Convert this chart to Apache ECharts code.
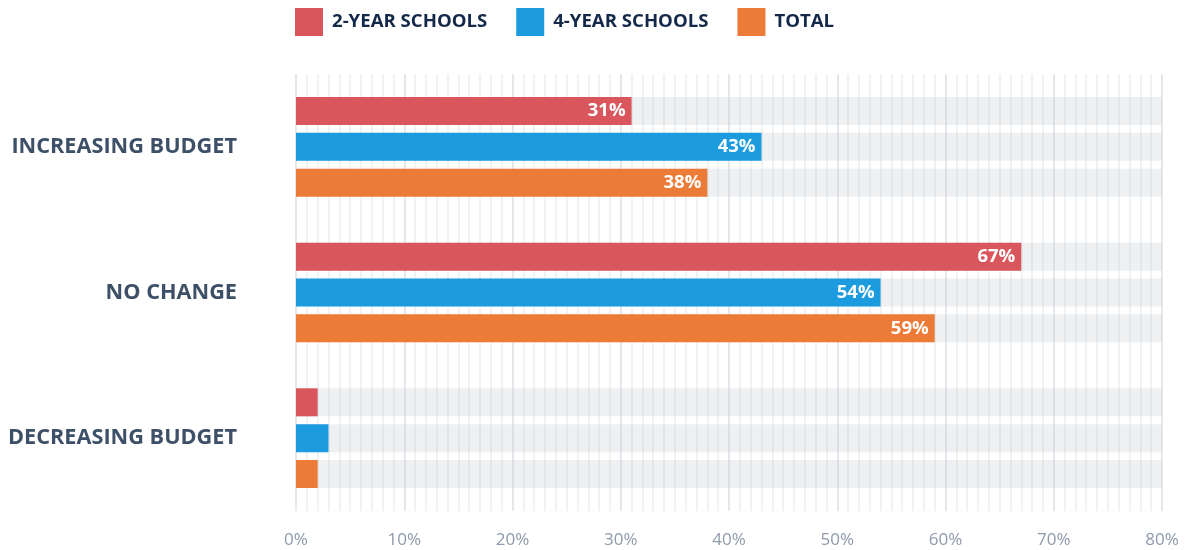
<!DOCTYPE html>
<html>
<head>
<meta charset="utf-8">
<script src="https://cdn.jsdelivr.net/npm/echarts@6/dist/echarts.min.js"></script>
<style>
  html, body { margin: 0; padding: 0; background: #fff; }
  #chart { width: 1192px; height: 550px; }
</style>
</head>
<body>
<div id="chart"></div>
<script>
// 数据
const categories = ['INCREASING BUDGET', 'NO CHANGE', 'DECREASING BUDGET'];
const twoYear = [31, 67, 2];
const fourYear = [43, 54, 3];
const total = [38, 59, 2];
const xTicks = [0, 10, 20, 30, 40, 50, 60, 70, 80];

const font = '"Open Sans", "Noto Sans", sans-serif';

// 小于5%的柱子不显示标签
function makeSeries(name, data, color) {
    return {
        name: name,
        type: 'bar',
        data: data,
        barWidth: 28,
        barGap: '28%',
        itemStyle: { color: color },
        showBackground: true,
        backgroundStyle: { color: 'rgba(200,205,212,0.3)' },
        label: {
            show: true,
            position: 'insideRight',
            distance: 6,
            color: '#fff',
            fontFamily: font,
            fontWeight: 'bold',
            fontSize: 18.5,
            formatter: function (p) {
                return p.value < 5 ? '' : p.value + '%';
            }
        }
    };
}

var myChart = echarts.init(document.getElementById('chart'));
var option = {
    animation: false,
    legend: {
        top: 8,
        left: 295,
        padding: 0,
        itemWidth: 28,
        itemHeight: 28,
        itemGap: 29,
        icon: 'rect',
        textStyle: {
            color: '#14284a',
            fontFamily: font,
            fontWeight: 'bold',
            fontSize: 18.6,
            padding: [0, 0, 0, 4]
        }
    },
    grid: {
        left: 296,
        right: 30,
        top: 74,
        height: 437
    },
    xAxis: {
        type: 'value',
        min: 0,
        max: 80,
        interval: 10,
        axisLine: { show: false },
        axisTick: { show: false },
        axisLabel: {
            color: '#8e9aab',
            fontFamily: font,
            fontSize: 17,
            margin: 21,
            formatter: function (v) {
                return xTicks.indexOf(v) >= 0 ? v + '%' : '';
            }
        },
        splitLine: { show: true, lineStyle: { color: '#dcdfe4', width: 1.5 } },
        minorTick: { show: false, splitNumber: 10 },
        minorSplitLine: { show: true, lineStyle: { color: '#eceef1', width: 1.5 } }
    },
    yAxis: {
        type: 'category',
        data: categories,
        inverse: true,
        axisLine: { show: false },
        axisTick: { show: false },
        axisLabel: {
            color: '#3d5067',
            fontFamily: font,
            fontWeight: 'bold',
            fontSize: 21.7,
            margin: 59
        }
    },
    series: [
        makeSeries('2-YEAR SCHOOLS', twoYear, '#d9565c'),
        makeSeries('4-YEAR SCHOOLS', fourYear, '#1c9bdf'),
        makeSeries('TOTAL', total, '#ec7b37')
    ]
};
myChart.setOption(option);
</script>
</body>
</html>
